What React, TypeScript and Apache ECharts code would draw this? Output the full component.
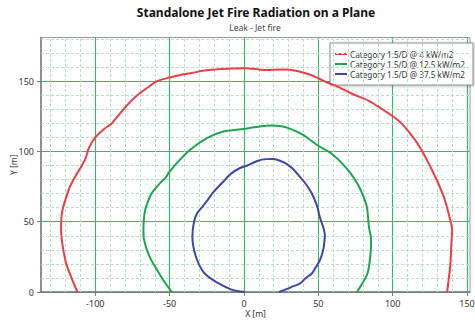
import React, { useEffect, useRef } from "react";
import * as echarts from "echarts";

const TITLE = "Standalone Jet Fire Radiation on a Plane";
const SUBTITLE = "Leak - Jet fire";
const SERIES_NAMES = [
  "Category 1.5/D @ 4 kW/m2",
  "Category 1.5/D @ 12.5 kW/m2",
  "Category 1.5/D @ 37.5 kW/m2",
];

const red4: [number, number][] = [
  [-112, 0], [-116, 10], [-119.5, 20], [-121.5, 30], [-122.8, 40], [-123, 47],
  [-122.3, 57], [-120, 66], [-117, 75], [-113, 83], [-109, 90], [-106.5, 95],
  [-104.5, 102], [-100, 110], [-94, 116], [-88.8, 120], [-81, 130], [-72, 139.7],
  [-64, 146], [-58.5, 150], [-50, 152.5], [-42, 154.5], [-35, 155.8], [-28, 157.3],
  [-15, 158.6], [0, 159.2], [8, 158.6], [14, 157.8], [20, 158.1], [28, 158.2],
  [34, 157.5], [39, 156.3], [46, 154], [51, 151.5], [56, 149], [61.5, 146.8],
  [72.7, 141], [84, 136], [93, 130], [100, 125], [106.3, 119.6], [115.3, 107.8],
  [122, 96], [128.7, 81.8], [134.4, 67.6], [138.3, 53], [140, 44], [139.5, 35],
  [139.3, 30], [138.8, 20], [137.8, 10], [136.6, 0],
];

const green12: [number, number][] = [
  [-48.5, 0], [-54, 8], [-58.6, 16], [-62.5, 23], [-65.3, 30], [-67.3, 38],
  [-67.6, 44.4], [-67.3, 52], [-66.4, 58.6], [-64.5, 64.5], [-62, 70.4],
  [-58.5, 75], [-55.3, 78.7], [-52.5, 81.5], [-50.8, 84.6], [-45.2, 91.7],
  [-36.2, 101.2], [-25, 109.5], [-13.9, 114.2], [0, 116], [10.7, 117.7],
  [18.6, 118.4], [25, 117.9], [30, 116.5], [39.8, 111.8], [44.3, 108.3],
  [49.9, 104], [55.9, 100.5], [60.2, 97.3], [66, 91.5], [71.6, 84.5],
  [76, 77.5], [79.5, 70.2], [82, 63], [83, 58.3], [84, 46.4], [85.5, 37],
  [85.3, 30], [84.6, 22], [83, 13], [79.5, 6], [76, 0],
];

const blue37: [number, number][] = [
  [0.5, 0], [-4.5, 0.7], [-8.9, 1.9], [-17.9, 6.6], [-26.8, 13.6],
  [-32.4, 25.4], [-34.7, 39.4], [-33.6, 50], [-31.5, 56], [-28, 60.6],
  [-24, 66], [-21, 70.5], [-18, 74], [-13, 79.5], [-8.9, 84], [-3, 88],
  [2.2, 90], [8.9, 93.2], [15, 94.5], [20, 94.6], [25, 93], [28.9, 91],
  [33, 87.5], [37.8, 81.7], [41.5, 77], [44.4, 72.3], [46.6, 67.9],
  [49.3, 60.6], [50.8, 54], [53.3, 46], [54.4, 40.6], [54, 35],
  [53.3, 30], [51.1, 22.6], [48, 17], [45.5, 13], [42.2, 10.5],
  [37.5, 5.9], [33.3, 4.2], [28.5, 2], [23.5, 0],
];

const X_LABELS = [-100, -50, 0, 50, 100, 150];
const Y_LABELS = [0, 50, 100, 150];
const X_MINOR = [-130, -120, -110, -90, -80, -70, -60, -40, -30, -20, -10, 10, 20, 30, 40, 60, 70, 80, 90, 110, 120, 130, 140];
const Y_MINOR = [10, 20, 30, 40, 60, 70, 80, 90, 110, 120, 130, 140, 160, 170, 180];

const COLORS = ["#ee3d47", "#1aa64e", "#3c47a6"];
const FONT = "'Noto Sans', 'Open Sans', sans-serif";

export default function App() {
  const ref = useRef<HTMLDivElement>(null);
  useEffect(() => {
    if (!ref.current) return;
    const chart = echarts.init(ref.current, undefined, { renderer: "svg" });
    const minorLine = {
      symbol: ["none", "none"],
      silent: true,
      label: { show: false },
      emphasis: { disabled: true },
      lineStyle: { color: "#b3e2c2", type: [3, 2], width: 1 },
      data: [
        ...X_MINOR.map((v) => ({ xAxis: v })),
        ...Y_MINOR.map((v) => ({ yAxis: v })),
      ],
    };
    const dataSeries = [red4, green12, blue37].map((d, i) => ({
      name: SERIES_NAMES[i],
      type: "line",
      data: d,
      showSymbol: false,
      symbol: "none",
      smooth: 0.3,
      z: 5,
      lineStyle: { color: COLORS[i], width: 2 },
      itemStyle: { color: COLORS[i] },
    }));
    chart.setOption({
      animation: false,
      backgroundColor: "#ffffff",
      textStyle: { fontFamily: FONT },
      grid: {
        left: 41,
        right: 5,
        top: 37.5,
        bottom: 32,
        containLabel: false,
        outerBoundsMode: "none",
        show: true,
        borderColor: "#9a9a9a",
        borderWidth: 1,
      },
      graphic: [
        {
          type: "text",
          x: 256,
          y: 12.5,
          style: {
            text: TITLE,
            fontSize: 12,
            fontWeight: "bold",
            fontFamily: FONT,
            fill: "#111",
            align: "center",
            verticalAlign: "middle",
          },
        },
        {
          type: "text",
          x: 255,
          y: 27,
          style: {
            text: SUBTITLE,
            fontSize: 8.5,
            fontFamily: FONT,
            fill: "#444",
            align: "center",
            verticalAlign: "middle",
          },
        },
      ],
      legend: {
        orient: "vertical",
        left: 330,
        top: 43,
        backgroundColor: "#ffffff",
        borderColor: "#8c8c8c",
        borderWidth: 1,
        padding: [6, 8, 6, 5],
        itemGap: 0,
        itemWidth: 12,
        itemHeight: 2,
        icon: "rect",
        shadowColor: "rgba(0,0,0,0.25)",
        shadowBlur: 3,
        shadowOffsetX: 1,
        shadowOffsetY: 1,
        textStyle: {
          fontSize: 8.2,
          lineHeight: 10,
          color: "#333",
          fontFamily: FONT,
          padding: [0, 0, 0, -2],
        },
        data: SERIES_NAMES,
      },
      xAxis: {
        type: "value",
        min: -136.5,
        max: 152,
        name: "X [m]",
        nameLocation: "middle",
        nameGap: 17,
        nameMoveOverlap: false,
        nameTextStyle: { fontSize: 8.5, lineHeight: 9, color: "#333", fontFamily: FONT },
        axisLine: { show: true, onZero: false, lineStyle: { color: "#7a7a7a", width: 1.5 } },
        axisTick: { show: true, length: 4, customValues: X_LABELS, lineStyle: { color: "#7a7a7a" } },
        axisLabel: { customValues: X_LABELS, fontSize: 9, lineHeight: 9, color: "#333", margin: 7, fontFamily: FONT },
        splitLine: { show: true, lineStyle: { color: "#3cb46a", width: 1.2 } },
      },
      yAxis: {
        type: "value",
        min: 0,
        max: 181,
        name: "Y [m]",
        nameLocation: "middle",
        nameGap: 23,
        nameMoveOverlap: false,
        nameTextStyle: { fontSize: 8.5, color: "#333", fontFamily: FONT },
        axisLine: { show: true, onZero: false, lineStyle: { color: "#7a7a7a", width: 1.5 } },
        axisTick: { show: true, length: 4, customValues: Y_LABELS, lineStyle: { color: "#7a7a7a" } },
        axisLabel: { customValues: Y_LABELS, fontSize: 9, color: "#333", margin: 7, fontFamily: FONT },
        splitLine: { show: true, lineStyle: { color: "#3cb46a", width: 1.2 } },
      },
      series: [
        {
          name: "grid-minor",
          type: "line",
          data: [],
          z: 1,
          markLine: minorLine,
        },
        ...dataSeries,
      ],
    });
    return () => chart.dispose();
  }, []);
  return <div ref={ref} style={{ width: 475, height: 324, position: "absolute", left: 0, top: 0 }} />;
}
